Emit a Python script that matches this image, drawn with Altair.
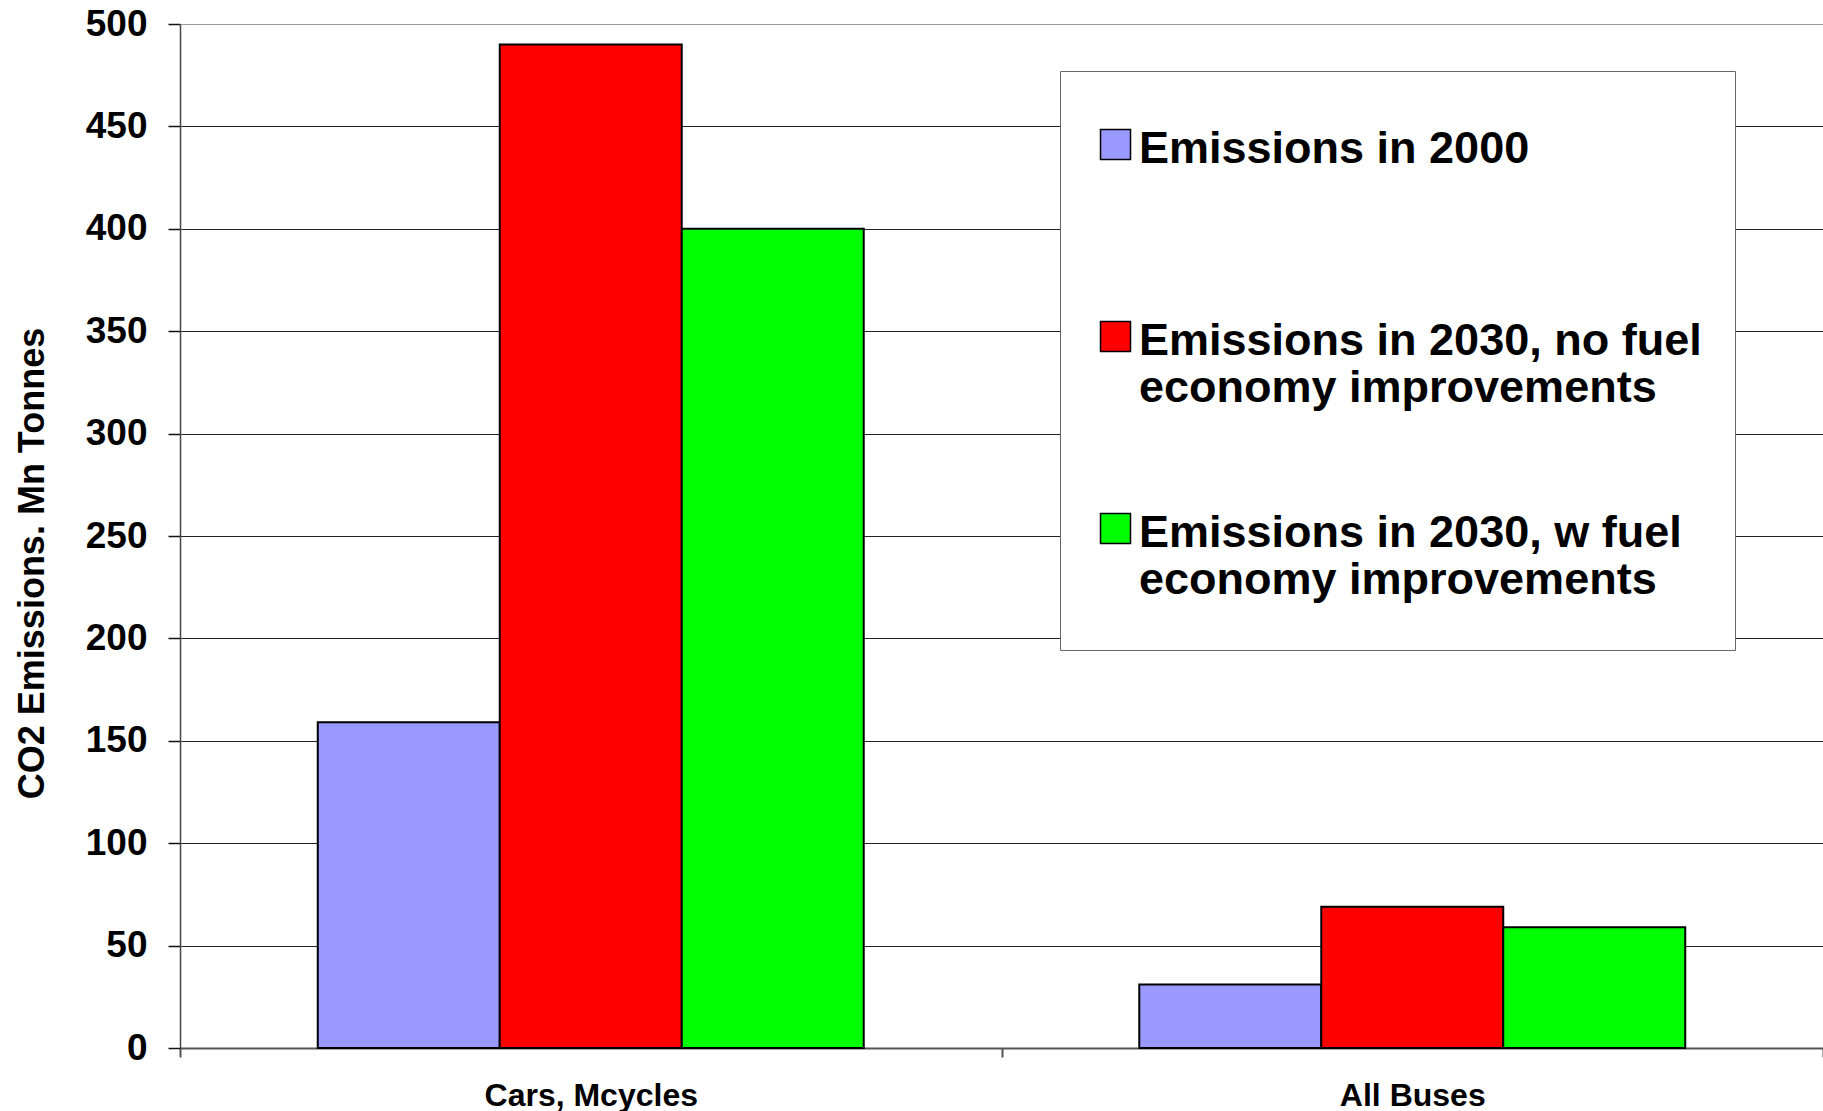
import altair as alt
import pandas as pd

# Vehicle categories on the x axis
categories = ["Cars, Mcycles", "All Buses"]

# Scenario series shown as grouped bars
series = [
    "Emissions in 2000",
    "Emissions in 2030, no fuel economy improvements",
    "Emissions in 2030, w fuel economy improvements",
]
series_colors = ["#9999FF", "#FF0000", "#00FF00"]

# CO2 emissions (Mn tonnes) per series, one value per category
emissions_2000 = [159, 31]
emissions_2030_no_fe = [490, 69]
emissions_2030_with_fe = [400, 59]

y_ticks = [0, 50, 100, 150, 200, 250, 300, 350, 400, 450, 500]

rows = []
for s, vals in zip(series, [emissions_2000, emissions_2030_no_fe, emissions_2030_with_fe]):
    for c, v in zip(categories, vals):
        rows.append({"category": c, "series": s, "value": v})
df = pd.DataFrame(rows)

FONT = "Liberation Sans"

# Break the long legend labels after "fuel"; keep every entry two lines tall
legend_label_expr = (
    "indexof(datum.label, ' fuel ') < 0 ? [datum.label, ''] : "
    "split(replace(datum.label, ' fuel ', ' fuel|'), '|')"
)

bars = (
    alt.Chart(df)
    .mark_bar(stroke="black", strokeWidth=2)
    .encode(
        x=alt.X(
            "category:N",
            sort=categories,
            scale=alt.Scale(paddingInner=0, paddingOuter=0),
            axis=alt.Axis(
                title=None,
                labelAngle=0,
                labelFont=FONT,
                labelFontWeight="bold",
                labelFontSize=32,
                labelColor="black",
                labelBaseline="top",
                labelPadding=23,
                labelLimit=1000,
                tickBand="extent",
                tickSize=9,
                tickColor="#555555",
                tickWidth=2,
                domainColor="#555555",
                domainWidth=2,
                grid=False,
            ),
        ),
        xOffset=alt.XOffset(
            "series:N",
            sort=series,
            scale=alt.Scale(paddingInner=0, paddingOuter=0.757),
        ),
        y=alt.Y(
            "value:Q",
            scale=alt.Scale(domain=[0, 500], nice=False),
            axis=alt.Axis(
                values=y_ticks,
                title="CO2 Emissions. Mn Tonnes",
                titleFont=FONT,
                titleFontWeight="bold",
                titleFontSize=36,
                titleColor="black",
                titleAngle=270,
                titleAlign="center",
                titleBaseline="middle",
                titleX=-148,
                titleY=539,
                labelFont=FONT,
                labelFontWeight="bold",
                labelFontSize=37,
                labelColor="black",
                labelPadding=21,
                tickSize=12,
                tickColor="#111111",
                tickWidth=1.5,
                domainColor="#444444",
                domainWidth=1.5,
                grid=True,
                gridColor={
                    "condition": {"test": "datum.value === 500", "value": "#999999"},
                    "value": "#222222",
                },
                gridWidth=1.2,
            ),
        ),
        color=alt.Color(
            "series:N",
            sort=series,
            scale=alt.Scale(domain=series, range=series_colors),
            legend=alt.Legend(
                title=" ",
                titleOrient="bottom",
                titleFontSize=2,
                titlePadding=12,
                orient="none",
                legendX=880,
                legendY=47,
                padding=33,
                strokeColor="#666666",
                fillColor="white",
                symbolType="M-1,0.2H1V2.2H-1Z",
                symbolSize=900,
                symbolStrokeColor="black",
                symbolStrokeWidth=1.5,
                symbolOpacity=1,
                labelFont=FONT,
                labelFontWeight="bold",
                labelFontSize=45,
                labelColor="black",
                labelBaseline="top",
                labelOffset=1,
                labelLimit=900,
                labelExpr=legend_label_expr,
                rowPadding=77,
            ),
        ),
    )
)

chart = (
    bars.properties(
        width=1643,
        height=1024,
        autosize="none",
        padding={"left": 180, "top": 24, "right": 0, "bottom": 63},
        background="white",
    )
    .configure_view(stroke=None)
)

chart.save("out.html", embed_options={"renderer": "svg", "actions": False})
